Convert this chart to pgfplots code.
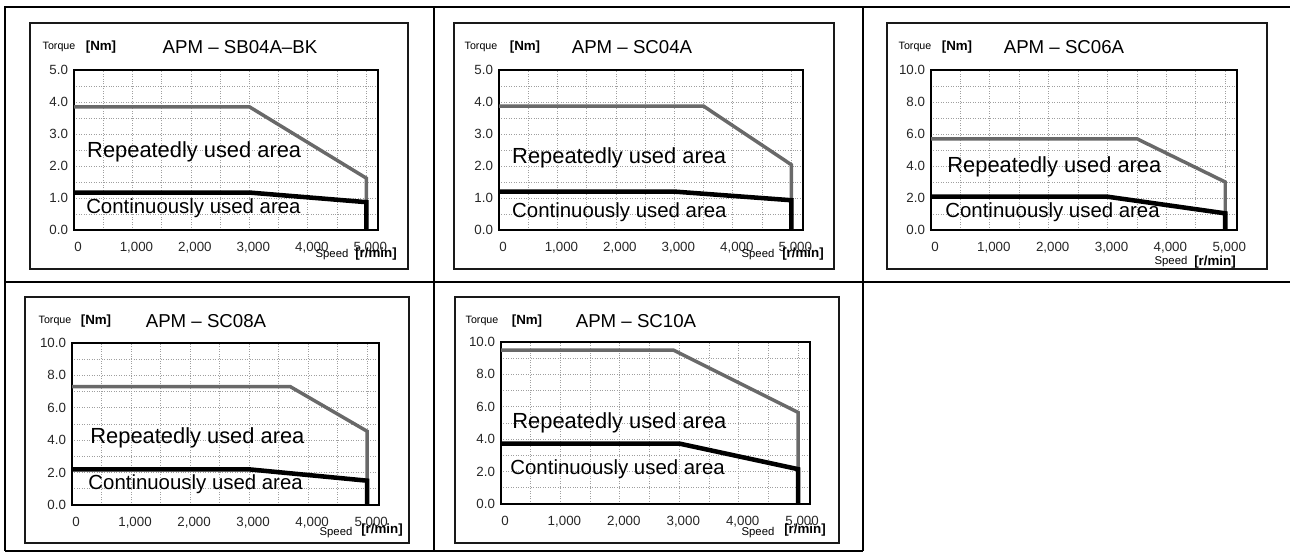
\documentclass[border=0pt]{standalone}
\usepackage{fontspec}
\setmainfont{Liberation Sans}
\usepackage{pgfplots}
\pgfplotsset{compat=1.18}
\definecolor{maxgray}{RGB}{105,105,105}
\pgfplotsset{
  torq/.style={
    scale only axis, anchor=south west,
    xmin=0, xmax=5200, ymin=0,
    axis line style={line width=1.5pt, black},
    xtick={0,1000,2000,3000,4000,5000},
    xticklabels={0,{1,000},{2,000},{3,000},{4,000},{5,000}},
    minor xtick={500,1500,2500,3500,4500},
    major tick length=0pt, minor tick length=0pt,
    grid=both,
    major grid style={gray!75, line width=0.6pt, dash pattern=on 0.75pt off 1.1pt},
    minor grid style={gray!75, line width=0.6pt, dash pattern=on 0.75pt off 1.1pt},
    tick label style={font=\fontsize{10}{12}\selectfont, text=black!85},
    xticklabel style={yshift=-5.5pt, xshift=3pt},
    yticklabel style={xshift=-1pt},
    clip=false,
  },
  five/.style={ymax=5, ytick={0,1,2,3,4,5}, yticklabels={0.0,1.0,2.0,3.0,4.0,5.0},
    minor ytick={0.5,1.5,2.5,3.5,4.5}},
  ten/.style={ymax=10, ytick={0,2,4,6,8,10}, yticklabels={0.0,2.0,4.0,6.0,8.0,10.0},
    minor ytick={1,3,5,7,9}},
  maxline/.style={maxgray, line width=2.6pt, line join=miter, no marks},
  contline/.style={black, line width=3.4pt, line join=miter, no marks},
}
\newcommand{\repfont}{\fontsize{16.4}{19}\selectfont}
\newcommand{\confont}{\fontsize{15.3}{18}\selectfont}
\newcommand{\titlefont}{\fontsize{14}{16}\selectfont}
\newcommand{\smallfont}{\fontsize{8}{9}\selectfont}
\newcommand{\unitfont}{\fontsize{10}{12}\selectfont\bfseries}
\newcommand{\speedfont}{\fontsize{8.5}{10}\selectfont}

\begin{document}
\begin{tikzpicture}[x=0.75pt, y=0.75pt]
\useasboundingbox (0,0) rectangle (1290,552);
% table grid
\draw[line width=1.5pt] (5,1) -- (5,545) -- (1290,545);
\draw[line width=1.5pt] (434,1) -- (434,545);
\draw[line width=1.5pt] (863,1) -- (863,545);
\draw[line width=1.5pt] (5,270) -- (1290,270);
\draw[line width=1.5pt] (5,1) -- (863,1);
% chart boxes
\draw[line width=1.5pt, black!90] (30,529) rectangle (408,283);
\draw[line width=1.5pt, black!90] (454,529) rectangle (834,283);
\draw[line width=1.5pt, black!90] (887,529) rectangle (1267,283);
\draw[line width=1.5pt, black!90] (25,255) rectangle (409,9);
\draw[line width=1.5pt, black!90] (455,255) rectangle (839,9);

% ---------- Chart 1: APM - SB04A-BK
\begin{axis}[torq, five, at={(55.5pt,241.5pt)}, width=228pt, height=120pt]
\addplot[maxline] coordinates {(0,3.85) (3000,3.85) (5000,1.62) (5000,0)};
\addplot[contline] coordinates {(0,1.17) (3000,1.17) (5000,0.87) (5000,0)};
\node[anchor=west, inner sep=0, font=\repfont] at (axis cs:222,2.44) {Repeatedly used area};
\node[anchor=west, inner sep=0, font=\confont] at (axis cs:205,0.69) {Continuously used area};
\end{axis}
\node[font=\smallfont] at (59,505) {Torque};
\node[font=\unitfont] at (101,505) {[Nm]};
\node[font=\titlefont] at (240,505) {APM – SB04A–BK};
\node[font=\speedfont] at (332,297) {Speed};
\node[font=\unitfont] at (376,298) {[r/min]};

% ---------- Chart 2: APM - SC04A
\begin{axis}[torq, five, at={(374.25pt,241.5pt)}, width=228pt, height=120pt]
\addplot[maxline] coordinates {(0,3.87) (3500,3.87) (5000,2.04) (5000,0)};
\addplot[contline] coordinates {(0,1.2) (3000,1.2) (5000,0.93) (5000,0)};
\node[anchor=west, inner sep=0, font=\repfont] at (axis cs:222,2.26) {Repeatedly used area};
\node[anchor=west, inner sep=0, font=\confont] at (axis cs:222,0.57) {Continuously used area};
\end{axis}
\node[font=\smallfont] at (481,505) {Torque};
\node[font=\unitfont] at (525,505) {[Nm]};
\node[font=\titlefont] at (632,505) {APM – SC04A};
\node[font=\speedfont] at (758,297) {Speed};
\node[font=\unitfont] at (803,298) {[r/min]};

% ---------- Chart 3: APM - SC06A
\begin{axis}[torq, ten, at={(698.25pt,241.5pt)}, width=229.5pt, height=120pt]
\addplot[maxline] coordinates {(0,5.7) (3500,5.7) (5000,3.0) (5000,0)};
\addplot[contline] coordinates {(0,2.08) (3000,2.08) (5000,1.04) (5000,0)};
\node[anchor=west, inner sep=0, font=\repfont] at (axis cs:274,3.94) {Repeatedly used area};
\node[anchor=west, inner sep=0, font=\confont] at (axis cs:240,1.1) {Continuously used area};
\end{axis}
\node[font=\smallfont] at (915,505) {Torque};
\node[font=\unitfont] at (957,505) {[Nm]};
\node[font=\titlefont] at (1064,505) {APM – SC06A};
\node[font=\speedfont] at (1171,290) {Speed};
\node[font=\unitfont] at (1215,290) {[r/min]};

% ---------- Chart 4: APM - SC08A
\begin{axis}[torq, ten, at={(54pt,35.25pt)}, width=230.25pt, height=121.5pt]
\addplot[maxline] coordinates {(0,7.3) (3700,7.3) (5000,4.55) (5000,0)};
\addplot[contline] coordinates {(0,2.2) (3000,2.2) (5000,1.5) (5000,0)};
\node[anchor=west, inner sep=0, font=\repfont] at (axis cs:308,4.14) {Repeatedly used area};
\node[anchor=west, inner sep=0, font=\confont] at (axis cs:274,1.3) {Continuously used area};
\end{axis}
\node[font=\smallfont] at (55,231) {Torque};
\node[font=\unitfont] at (96,231) {[Nm]};
\node[font=\titlefont] at (206,231) {APM – SC08A};
\node[font=\speedfont] at (336,19) {Speed};
\node[font=\unitfont] at (382,22) {[r/min]};

% ---------- Chart 5: APM - SC10A
\begin{axis}[torq, ten, at={(375.75pt,36pt)}, width=231.75pt, height=121.5pt]
\addplot[maxline] coordinates {(0,9.5) (2900,9.5) (5000,5.65) (5000,0)};
\addplot[contline] coordinates {(0,3.73) (3000,3.73) (5000,2.15) (5000,0)};
\node[anchor=west, inner sep=0, font=\repfont] at (axis cs:188,5.0) {Repeatedly used area};
\node[anchor=west, inner sep=0, font=\confont] at (axis cs:154,2.16) {Continuously used area};
\end{axis}
\node[font=\smallfont] at (482,231) {Torque};
\node[font=\unitfont] at (527,231) {[Nm]};
\node[font=\titlefont] at (636,231) {APM – SC10A};
\node[font=\speedfont] at (758,19) {Speed};
\node[font=\unitfont] at (805,22) {[r/min]};
\end{tikzpicture}
\end{document}
